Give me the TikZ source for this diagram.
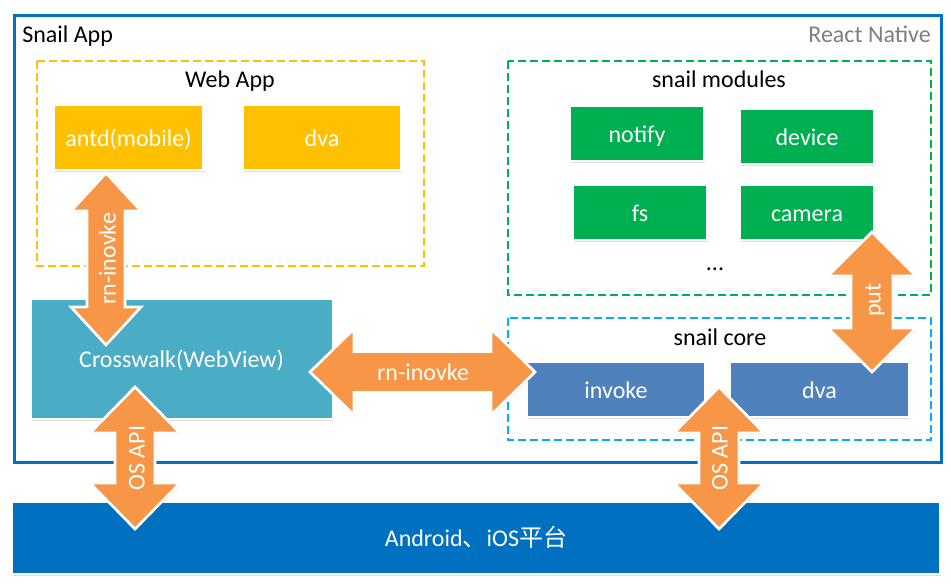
\documentclass[tikz,border=0pt]{standalone}
\usepackage{fontspec}
\setmainfont{Carlito}
\newfontfamily\cjk{Noto Sans CJK SC}
\usetikzlibrary{shadows}
\definecolor{cYellow}{HTML}{FFC000}
\definecolor{cGreen}{HTML}{00B050}
\definecolor{cTeal}{HTML}{4BACC6}
\definecolor{cCore}{HTML}{4F81BD}
\definecolor{cBlue}{HTML}{0070C0}
\definecolor{cCyan}{HTML}{00B0F0}
\definecolor{cOrange}{HTML}{F79646}
\definecolor{cGray}{HTML}{7F7F7F}
\newcommand\myvarrow[6]{%
  \draw[bigarrow] (#1,#2) -- ({#1+#5},{#2+#6}) -- ({#1+#4},{#2+#6}) -- ({#1+#4},{#3-#6})
    -- ({#1+#5},{#3-#6}) -- (#1,#3) -- ({#1-#5},{#3-#6}) -- ({#1-#4},{#3-#6})
    -- ({#1-#4},{#2+#6}) -- ({#1-#5},{#2+#6}) -- cycle;}
\newcommand\myharrow[6]{%
  \draw[bigarrow] (#2,#1) -- ({#2+#6},{#1-#5}) -- ({#2+#6},{#1-#4}) -- ({#3-#6},{#1-#4})
    -- ({#3-#6},{#1-#5}) -- (#3,#1) -- ({#3-#6},{#1+#5}) -- ({#3-#6},{#1+#4})
    -- ({#2+#6},{#1+#4}) -- ({#2+#6},{#1+#5}) -- cycle;}
\begin{document}
\begin{tikzpicture}[x=0.75pt,y=-0.75pt,
  font=\fontsize{18pt}{21pt}\selectfont,
  box/.style={draw=white, line width=1.5pt, inner sep=0pt, outer sep=0pt, text=white,
    text height=13pt, text depth=0pt,
    drop shadow={shadow xshift=0.9pt, shadow yshift=-1.3pt, opacity=0.25}},
  wh/.style 2 args={minimum width={(#1+2)*0.75pt}, minimum height={(#2+2)*0.75pt}},
  dashbox/.style={line width=1.9pt, dash pattern=on 6pt off 3pt},
  bigarrow/.style={draw=white, line width=2pt, fill=cOrange, line join=miter,
    drop shadow={shadow xshift=0.8pt, shadow yshift=-1.2pt, opacity=0.2}},
  alabel/.style={text=white, inner sep=0pt, text height=13pt, text depth=0pt},
  title/.style={anchor=base, inner sep=0pt}]
\useasboundingbox (0,0) rectangle (951,587);
\fill[white] (0,0) rectangle (951,587);

% outer Snail App frame
\draw[cBlue, line width=2.25pt] (14,15) rectangle (941,462);
\node[anchor=base west, inner sep=0pt] (snailapp) at (22,42) {Snail App};
\node[anchor=base east, inner sep=0pt, text=cGray] (reactnative) at (931,42) {React Native};

% platform bar
\node[box, fill=cBlue, wh={926}{70}] (android) at (476,538) {Android{\cjk 、}iOS{\cjk 平台}};

% Web App group
\draw[dashbox, cYellow] (37,61) rectangle (424,266);
\node[title] (webapp) at (230,87) {Web App};
\node[box, fill=cYellow, wh={147}{63}] (antd) at (128.5,137.5) {antd(mobile)};
\node[box, fill=cYellow, wh={156}{63}] (dvaweb) at (322,137.5) {dva};

% snail modules group
\draw[dashbox, cGreen] (508,61) rectangle (931,295);
\node[title] (modules) at (719,87) {snail modules};
\node[box, fill=cGreen, wh={132}{53}] (notify) at (637,133.5) {notify};
\node[box, fill=cGreen, wh={132}{53}] (device) at (807,136.5) {device};
\node[box, fill=cGreen, wh={132}{53}] (fs) at (640,212.5) {fs};
\node[box, fill=cGreen, wh={132}{53}] (camera) at (807,212.5) {camera};
\node[title] (more) at (715,270) {...};

% snail core group
\draw[dashbox, cCyan] (508,318) rectangle (931,440);
\node[title] (core) at (720,345) {snail core};
\node[box, fill=cCore, wh={176}{53}] (invoke) at (616,389.5) {invoke};
\node[box, fill=cCore, wh={177}{53}] (dvacore) at (819.5,389.5) {dva};

% Crosswalk
\node[box, fill=cTeal, wh={300}{118}] (crosswalk) at (181.5,359) {Crosswalk(WebView)};

% block arrows
\myvarrow{106}{173}{345}{19}{35}{38}
\node[alabel, rotate=90] (rnv) at (107,259) {rn-inovke};
\myharrow{372}{310}{535}{20.5}{43}{44}
\node[alabel] (rnh) at (423,372) {rn-inovke};
\myvarrow{135}{387}{529}{20}{45}{46}
\node[alabel, rotate=90] (osl) at (136,458) {OS API};
\myvarrow{719}{387}{529}{20}{45}{46}
\node[alabel, rotate=90] (osr) at (719,458) {OS API};
\myvarrow{872}{232}{372}{21}{44}{44}
\node[alabel, rotate=90] (put) at (872,300) {put};
\end{tikzpicture}
\end{document}
